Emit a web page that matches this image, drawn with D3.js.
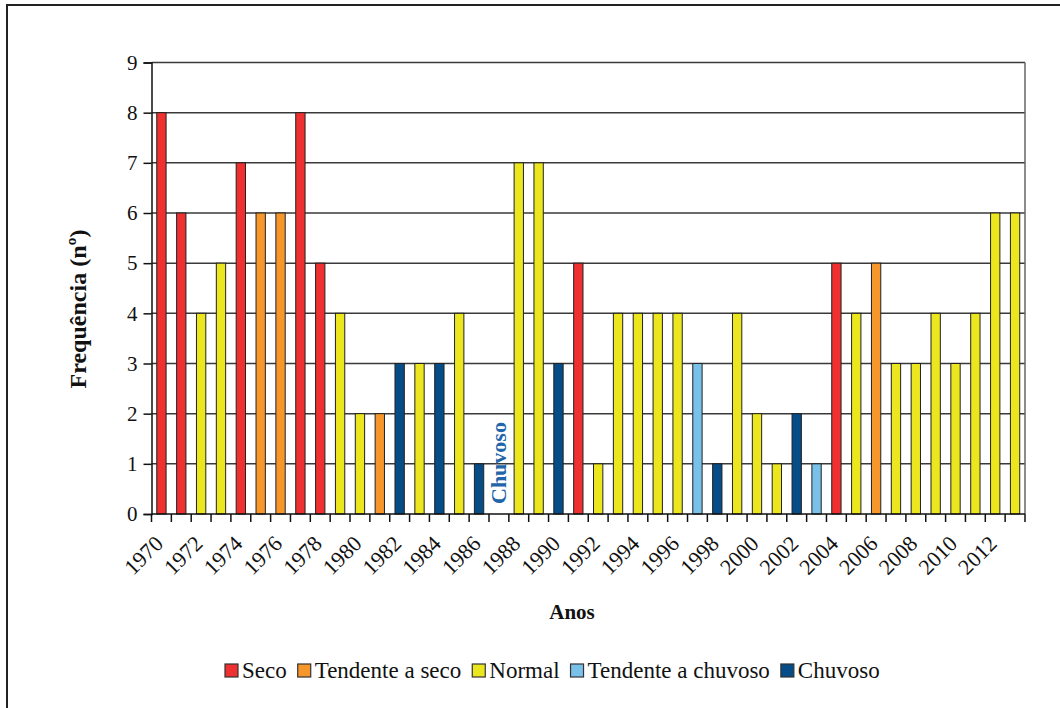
<!DOCTYPE html>
<html>
<head>
<meta charset="utf-8">
<script src="https://cdnjs.cloudflare.com/ajax/libs/d3/7.8.5/d3.min.js"></script>
<style>
  body { margin: 0; background: #fff; }
  svg text { font-family: "Liberation Serif", "DejaVu Serif", serif; fill: #111; }
</style>
</head>
<body>
<svg id="chart" width="1060" height="708"></svg>
<script>
// data
var years = d3.range(1970, 2014);
var freq = [8, 6, 4, 5, 7, 6, 6, 8, 5, 4, 2, 2, 3, 3, 3, 4, 1, 0,
            7, 7, 3, 5, 1, 4, 4, 4, 4, 3, 1, 4, 2, 1, 2, 1, 5, 4, 5,
            3, 3, 4, 3, 4, 6, 6];
var classe = ["Seco", "Seco", "Normal", "Normal", "Seco", "Tendente a seco", "Tendente a seco",
              "Seco", "Seco", "Normal", "Normal", "Tendente a seco", "Chuvoso", "Normal",
              "Chuvoso", "Normal", "Chuvoso", "Chuvoso", "Normal", "Normal", "Chuvoso", "Seco",
              "Normal", "Normal", "Normal", "Normal", "Normal", "Tendente a chuvoso", "Chuvoso",
              "Normal", "Normal", "Normal", "Chuvoso", "Tendente a chuvoso", "Seco", "Normal",
              "Tendente a seco", "Normal", "Normal", "Normal", "Normal", "Normal", "Normal", "Normal"];
var categorias = ["Seco", "Tendente a seco", "Normal", "Tendente a chuvoso", "Chuvoso"];
var cores = ["#ee3030", "#f7962b", "#ece61f", "#7ac1e9", "#064c86"];
var yTicks = d3.range(0, 10);
var anotacao = { year: 1987, text: "Chuvoso" };

var data = years.map(function(y, i) {
  return { year: y, value: freq[i], cls: classe[i] };
});

var svg = d3.select("#chart");

// outer frame of the figure
svg.append("path")
    .attr("d", "M7,708V5H1060")
    .attr("fill", "none")
    .attr("stroke", "#222")
    .attr("stroke-width", 2);

// plot area (don't call it "top", that's window.top)
var pLeft = 151.5, pRight = 1025, pTop = 62.5, pBottom = 514;

var x = d3.scaleBand().domain(years).range([pLeft, pRight]).padding(0);
var y = d3.scaleLinear().domain([0, 9]).range([pBottom, pTop]);
var color = d3.scaleOrdinal().domain(categorias).range(cores);

// horizontal grid
svg.append("g").selectAll("line")
    .data(yTicks.slice(1))
  .enter().append("line")
    .attr("x1", pLeft).attr("x2", pRight)
    .attr("y1", function(d) { return y(d); })
    .attr("y2", function(d) { return y(d); })
    .attr("stroke", "#3a3a3a")
    .attr("stroke-width", 1.5);

// right border of plot area
svg.append("line")
    .attr("x1", pRight).attr("x2", pRight)
    .attr("y1", pTop).attr("y2", pBottom)
    .attr("stroke", "#666")
    .attr("stroke-width", 1.5);

// bars
var bw = x.bandwidth() * 0.47;
svg.append("g").selectAll("rect")
    .data(data.filter(function(d) { return d.value > 0; }))
  .enter().append("rect")
    .attr("x", function(d) { return x(d.year) + (x.bandwidth() - bw) / 2; })
    .attr("y", function(d) { return y(d.value); })
    .attr("width", bw)
    .attr("height", function(d) { return y(0) - y(d.value); })
    .attr("fill", function(d) { return color(d.cls); })
    .attr("stroke", "#222")
    .attr("stroke-width", 1);

// y axis
var yAxis = d3.axisLeft(y).tickValues(yTicks).tickSize(8).tickPadding(6);
var gy = svg.append("g")
    .attr("transform", "translate(" + pLeft + ",0)")
    .call(yAxis);
gy.select(".domain").attr("stroke", "#111").attr("stroke-width", 1.5);
gy.selectAll(".tick line").attr("stroke", "#111").attr("stroke-width", 1.5);
gy.selectAll(".tick text")
    .style("font-size", "21px")
    .attr("fill", "#111");

// x axis: ticks on category boundaries
var bounds = years.map(function(d) { return x(d); }).concat([pRight]);
var gx = svg.append("g");
gx.append("line")
    .attr("x1", pLeft).attr("x2", pRight)
    .attr("y1", pBottom).attr("y2", pBottom)
    .attr("stroke", "#111").attr("stroke-width", 1.5);
gx.selectAll("line.tk")
    .data(bounds)
  .enter().append("line")
    .attr("class", "tk")
    .attr("x1", function(d) { return d; }).attr("x2", function(d) { return d; })
    .attr("y1", pBottom).attr("y2", pBottom + 8)
    .attr("stroke", "#111").attr("stroke-width", 1.5);
gx.selectAll("text")
    .data(years.filter(function(d) { return d % 2 === 0; }))
  .enter().append("text")
    .attr("transform", function(d) {
      return "translate(" + (x(d) + x.bandwidth() / 2 + 3) + "," + (pBottom + 31) + ")rotate(-45)";
    })
    .attr("text-anchor", "end")
    .style("font-size", "22px")
    .text(function(d) { return d; });

// annotation in the empty year
svg.append("text")
    .attr("transform", "translate(" + (x(anotacao.year) + x.bandwidth() / 2 + 7) + "," + (pBottom - 10) + ")rotate(-90)")
    .attr("text-anchor", "start")
    .style("font-size", "22px")
    .style("font-weight", "bold")
    .style("fill", "#2265a8")
    .text(anotacao.text);

// axis titles
svg.append("text")
    .attr("transform", "translate(86,309)rotate(-90)")
    .attr("text-anchor", "middle")
    .style("font-size", "24px")
    .style("font-weight", "bold")
    .text("Frequência (nº)");

svg.append("text")
    .attr("x", 572).attr("y", 619)
    .attr("text-anchor", "middle")
    .style("font-size", "21px")
    .style("font-weight", "bold")
    .text("Anos");

// legend
var legend = svg.append("g");
var lx = 225;
categorias.forEach(function(c, i) {
  var g = legend.append("g").attr("transform", "translate(" + lx + ",664)");
  g.append("rect")
      .attr("width", 13).attr("height", 13)
      .attr("fill", cores[i])
      .attr("stroke", "#333").attr("stroke-width", 1.2);
  var t = g.append("text")
      .attr("x", 17).attr("y", 14)
      .style("font-size", "23px")
      .text(c);
  lx += 17 + t.node().getComputedTextLength() + 11;
});
</script>
</body>
</html>
